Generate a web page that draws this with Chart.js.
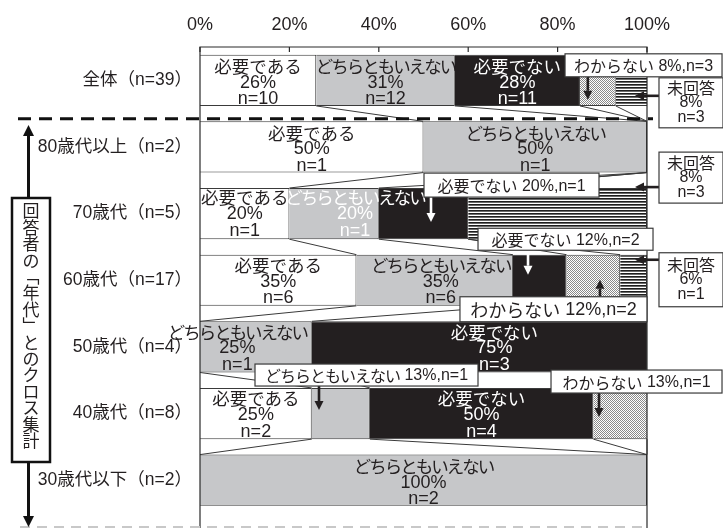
<!DOCTYPE html>
<html>
<head>
<meta charset="utf-8">
<script src="https://cdn.jsdelivr.net/npm/chart.js@4/dist/chart.umd.min.js"></script>
<style>
  html, body { margin: 0; padding: 0; background: #fff; overflow: hidden; }
  #wrap { position: relative; width: 723px; height: 532px; }
</style>
</head>
<body>
<div id="wrap"><canvas id="c"></canvas></div>
<script>
// ---- data ----
const categories = ['全体（n=39）', '80歳代以上（n=2）', '70歳代（n=5）', '60歳代（n=17）', '50歳代（n=4）', '40歳代（n=8）', '30歳代以下（n=2）'];
const seriesNames = ['必要である', 'どちらともいえない', '必要でない', 'わからない', '未回答'];
const pctNeed     = [26, 50, 20, 35, 0, 25, 0];
const pctNeutral  = [31, 50, 20, 35, 25, 13, 100];
const pctNoNeed   = [28, 0, 20, 12, 75, 50, 0];
const pctUnknown  = [8, 0, 0, 12, 0, 13, 0];
const pctNoAnswer = [8, 0, 40, 6, 0, 0, 0];
const nNeed     = [10, 1, 1, 6, 0, 2, 0];
const nNeutral  = [12, 1, 1, 6, 1, 1, 2];
const nNoNeed   = [11, 0, 1, 2, 3, 4, 0];
const nUnknown  = [3, 0, 0, 2, 0, 1, 0];
const nNoAnswer = [3, 0, 2, 1, 0, 0, 0];
const xTicks = [0, 20, 40, 60, 80, 100];
const sideTitle = '回答者の「年代」とのクロス集計';

const seriesPct = [pctNeed, pctNeutral, pctNoNeed, pctUnknown, pctNoAnswer];
const seriesN = [nNeed, nNeutral, nNoNeed, nUnknown, nNoAnswer];

const LATIN = '"Liberation Sans", Arial, sans-serif';
const CJK = '"Noto Sans CJK JP", sans-serif';
const MIXED = '"Liberation Sans", "Noto Sans CJK JP", sans-serif';
const INK = '#231f20';

const canvas = document.getElementById('c');
const mainCtx = canvas.getContext('2d');

// fill patterns: fine dots and horizontal hatching
function makePattern(w, h, paint) {
  const off = document.createElement('canvas');
  off.width = w; off.height = h;
  const g = off.getContext('2d');
  paint(g);
  return mainCtx.createPattern(off, 'repeat');
}
const dots = makePattern(2, 2, g => {
  g.fillStyle = '#fff'; g.fillRect(0, 0, 2, 2);
  g.fillStyle = '#8a8a8a'; g.fillRect(0, 0, 1, 1); g.fillRect(1, 1, 1, 1);
});
const stripes = makePattern(1, 3, g => {
  g.fillStyle = '#fff'; g.fillRect(0, 0, 1, 3);
  g.fillStyle = '#1e1e1e'; g.fillRect(0, 0, 1, 1);
  g.fillStyle = '#6a6a6a'; g.fillRect(0, 1, 1, 1);
});
const fills = ['#ffffff', '#c6c7c9', INK, dots, stripes];

// text with Japanese runs in a CJK face and Latin runs in a sans face, centred at x
const isCJK = ch => /[\u3000-\u30ff\u4e00-\u9fff\uff00-\uffef\ufe10-\ufe4f]/.test(ch);
function drawMixed(ctx, text, x, y, cjkSize, latinSize, kanaSpacing) {
  const runs = [];
  for (const ch of text) {
    const c = isCJK(ch);
    if (runs.length && runs[runs.length - 1].c === c) runs[runs.length - 1].t += ch;
    else runs.push({ c, t: ch });
  }
  const setFont = r => {
    ctx.font = (r.c ? cjkSize : latinSize) + 'px ' + (r.c ? CJK : LATIN);
    ctx.letterSpacing = (r.c ? (kanaSpacing || 0) : 0) + 'px';
  };
  let total = 0;
  runs.forEach(r => { setFont(r); r.w = ctx.measureText(r.t).width; total += r.w; });
  let cx = x - total / 2;
  ctx.textAlign = 'left'; ctx.textBaseline = 'middle';
  runs.forEach(r => { setFont(r); ctx.fillText(r.t, cx, y); cx += r.w; });
  ctx.letterSpacing = '0px';
}

// labels written inside segments: [row, series, color, dx, dy]
const inlineLabels = [
  [0, 0, INK, 0, 0], [0, 1, INK, 0, 0], [0, 2, '#fff', 0, 0],
  [1, 0, INK, 0, 0], [1, 1, INK, 0, 0],
  [2, 0, INK, 0, -2], [2, 1, '#fff', 21, -2],
  [3, 0, INK, 0, -1], [3, 1, INK, 6, -1],
  [4, 1, INK, -18.5, -1], [4, 2, '#fff', 15, -1],
  [5, 0, INK, 0, -1], [5, 2, '#fff', 0, -1],
  [6, 1, INK, 0, 0]
];

// callouts: anchored to a segment centre; box offset/size, arrow offsets
const callouts = [
  { row: 0, ser: 3, box: [45.7, -15, 157, 23], arrow: [-10, -3.5, -10, 19.5], color: INK },
  { row: 0, ser: 4, box: [57.4, 22.5, 64, 50], arrow: [25.4, 15.5, 1.4, 15.5], color: INK, stacked: true },
  { row: 2, ser: 4, box: [133.4, -36, 64, 51], arrow: [101.4, -26.5, 77.4, -26.5], color: INK, lines: ['未回答', '8%', 'n=3'] },
  { row: 2, ser: 2, box: [88, -28.5, 175, 24], arrow: [7.5, -16.5, 7.5, 8.5], color: '#fff' },
  { row: 3, ser: 2, box: [25.8, -41, 175, 22], arrow: [-11.7, -30.5, -11.7, -5.5], color: '#fff' },
  { row: 3, ser: 3, box: [-39.9, 29, 187, 25], arrow: [6.6, 16.5, 6.6, -0.5], color: INK, size: 18 },
  { row: 3, ser: 4, box: [57.4, -0.5, 64, 54], arrow: [25.4, -20.5, 1.4, -20.5], color: INK, stacked: true },
  { row: 5, ser: 1, box: [25.7, -38.5, 223, 22], arrow: [-21.8, -27.5, -21.8, -3.5], color: INK, spacing: -1 },
  { row: 5, ser: 3, box: [14.1, -32, 171, 23], arrow: [-23.4, -20.5, -23.4, 3.5], color: INK }
];

function drawArrow(ctx, x1, y1, x2, y2, color, lw, hl) {
  const ang = Math.atan2(y2 - y1, x2 - x1);
  const hw = hl * 0.5;
  const bx = x2 - hl * Math.cos(ang), by = y2 - hl * Math.sin(ang);
  ctx.save();
  ctx.strokeStyle = color; ctx.fillStyle = color; ctx.lineWidth = lw;
  ctx.beginPath(); ctx.moveTo(x1, y1); ctx.lineTo(bx, by); ctx.stroke();
  ctx.beginPath();
  ctx.moveTo(x2, y2);
  ctx.lineTo(bx - hw * Math.sin(ang), by + hw * Math.cos(ang));
  ctx.lineTo(bx + hw * Math.sin(ang), by - hw * Math.cos(ang));
  ctx.closePath(); ctx.fill();
  ctx.restore();
}

const decor = {
  id: 'decor',
  afterDatasetsDraw(chart) {
    const ctx = chart.ctx, xs = chart.scales.x, ca = chart.chartArea;
    const H = chart.height;
    const el = (k, i) => chart.getDatasetMeta(k).data[i];
    const segCenter = (k, i) => { const e = el(k, i); return [(e.x + e.base) / 2, e.y]; };

    // connector lines between neighbouring bars
    ctx.save();
    ctx.strokeStyle = '#3a3a3a'; ctx.lineWidth = 1;
    for (let i = 0; i < categories.length - 1; i++) {
      const e0 = el(0, i), e1 = el(0, i + 1);
      const yb = e0.y + e0.height / 2, yt = e1.y - e1.height / 2;
      let a = 0, b = 0;
      for (let k = 0; k < seriesPct.length - 1; k++) {
        a += seriesPct[k][i]; b += seriesPct[k][i + 1];
        ctx.beginPath();
        ctx.moveTo(xs.getPixelForValue(Math.min(a, 100)), yb);
        ctx.lineTo(xs.getPixelForValue(Math.min(b, 100)), yt);
        ctx.stroke();
      }
    }
    ctx.restore();

    // plot frame with inner tick marks at the top
    ctx.save();
    ctx.strokeStyle = '#2a2a2a'; ctx.lineWidth = 1.2;
    ctx.beginPath();
    ctx.moveTo(ca.left, H); ctx.lineTo(ca.left, ca.top);
    ctx.lineTo(ca.right, ca.top); ctx.lineTo(ca.right, H);
    ctx.stroke();
    ctx.beginPath();
    xTicks.forEach(v => { const x = xs.getPixelForValue(v); ctx.moveTo(x, ca.top); ctx.lineTo(x, ca.top + 5); });
    ctx.stroke();
    ctx.restore();

    // dashed separator under the total row
    const sepY = el(0, 1).y - el(0, 1).height / 2 - 2.5;
    ctx.save();
    ctx.strokeStyle = '#111'; ctx.lineWidth = 3; ctx.setLineDash([13, 8]);
    ctx.beginPath(); ctx.moveTo(18, sepY); ctx.lineTo(653, sepY); ctx.stroke();
    ctx.strokeStyle = '#c8c8c8'; ctx.lineWidth = 2; ctx.setLineDash([10, 7]);
    ctx.beginPath(); ctx.moveTo(20, 527); ctx.lineTo(ca.right, 527); ctx.stroke();
    ctx.restore();

    // segment labels: name / percent / count
    ctx.save();
    inlineLabels.forEach(([i, k, color, dx, dy]) => {
      const [cx, cy] = segCenter(k, i);
      const lines = [seriesNames[k], seriesPct[k][i] + '%', 'n=' + seriesN[k][i]];
      ctx.fillStyle = color;
      const sp = seriesNames[k].length > 6 ? -2 : 0;
      lines.forEach((t, j) => drawMixed(ctx, t, cx + dx, cy + dy - 14 + j * 16.5, 17.5, 18, sp));
    });
    ctx.restore();

    // callouts
    callouts.forEach(c => {
      const [cx, cy] = segCenter(c.ser, c.row);
      const [a1, b1, a2, b2] = c.arrow;
      drawArrow(ctx, cx + a1, cy + b1, cx + a2, cy + b2, c.color, 2.6, 9);
      const [bx, by, w, h] = c.box;
      const x0 = cx + bx - w / 2, y0 = cy + by - h / 2;
      ctx.save();
      ctx.fillStyle = '#fff'; ctx.fillRect(x0, y0, w, h);
      ctx.strokeStyle = '#3a3a3a'; ctx.lineWidth = 1.2; ctx.strokeRect(x0, y0, w, h);
      ctx.fillStyle = INK;
      const size = c.size || 16;
      const pct = seriesPct[c.ser][c.row], n = seriesN[c.ser][c.row];
      if (c.lines || c.stacked) {
        const lines = c.lines || [seriesNames[c.ser], pct + '%', 'n=' + n];
        lines.forEach((t, j) => drawMixed(ctx, t, cx + bx, cy + by - 14.5 + j * 14.5, 16, 16, 0));
      } else {
        drawMixed(ctx, seriesNames[c.ser] + ' ' + pct + '%,n=' + n, cx + bx, cy + by + 1, size, size, c.spacing || 0);
      }
      ctx.restore();
    });

    // side title with double arrow
    ctx.save();
    drawArrow(ctx, 28.5, 330, 28.5, 125, '#111', 3, 11);
    drawArrow(ctx, 28.5, 330, 28.5, 527, '#111', 3, 11);
    ctx.fillStyle = '#fff'; ctx.fillRect(12, 198, 38, 264);
    ctx.strokeStyle = '#111'; ctx.lineWidth = 2.5; ctx.strokeRect(12, 198, 38, 264);
    ctx.fillStyle = INK; ctx.textAlign = 'center'; ctx.textBaseline = 'middle';
    ctx.font = '17px ' + CJK;
    const vert = { '「': '﹁', '」': '﹂' };
    Array.from(sideTitle).forEach((ch, j) => ctx.fillText(vert[ch] || ch, 31, 211 + j * 16.4));
    ctx.restore();
  }
};

new Chart(canvas, {
  type: 'bar',
  data: {
    labels: categories,
    datasets: seriesNames.map((name, k) => ({
      label: name,
      data: seriesPct[k],
      backgroundColor: fills[k],
      borderColor: '#3a3a3a',
      borderWidth: 1,
      borderSkipped: 'start',
      barPercentage: 0.768,
      categoryPercentage: 1,
      clip: 0
    }))
  },
  options: {
    indexAxis: 'y',
    responsive: true,
    maintainAspectRatio: false,
    animation: false,
    events: [],
    layout: { padding: { left: 0, right: 76, top: 0, bottom: 2 } },
    plugins: { legend: { display: false }, tooltip: { enabled: false } },
    scales: {
      x: {
        type: 'linear', position: 'top', stacked: true, min: 0, max: 100,
        afterBuildTicks: s => { s.ticks = xTicks.map(v => ({ value: v })); },
        ticks: { callback: v => v + '%', font: { size: 18, family: LATIN }, color: INK, padding: 11, maxRotation: 0 },
        grid: { display: false, drawTicks: false },
        border: { display: false },
        afterFit: s => { s.height = 47; }
      },
      y: {
        stacked: true,
        ticks: { font: { size: 17.5, family: MIXED }, color: INK, padding: 8 },
        grid: { display: false, drawTicks: false },
        border: { display: false },
        afterFit: s => { s.width = 200; }
      }
    }
  },
  plugins: [decor]
});
</script>
</body>
</html>
